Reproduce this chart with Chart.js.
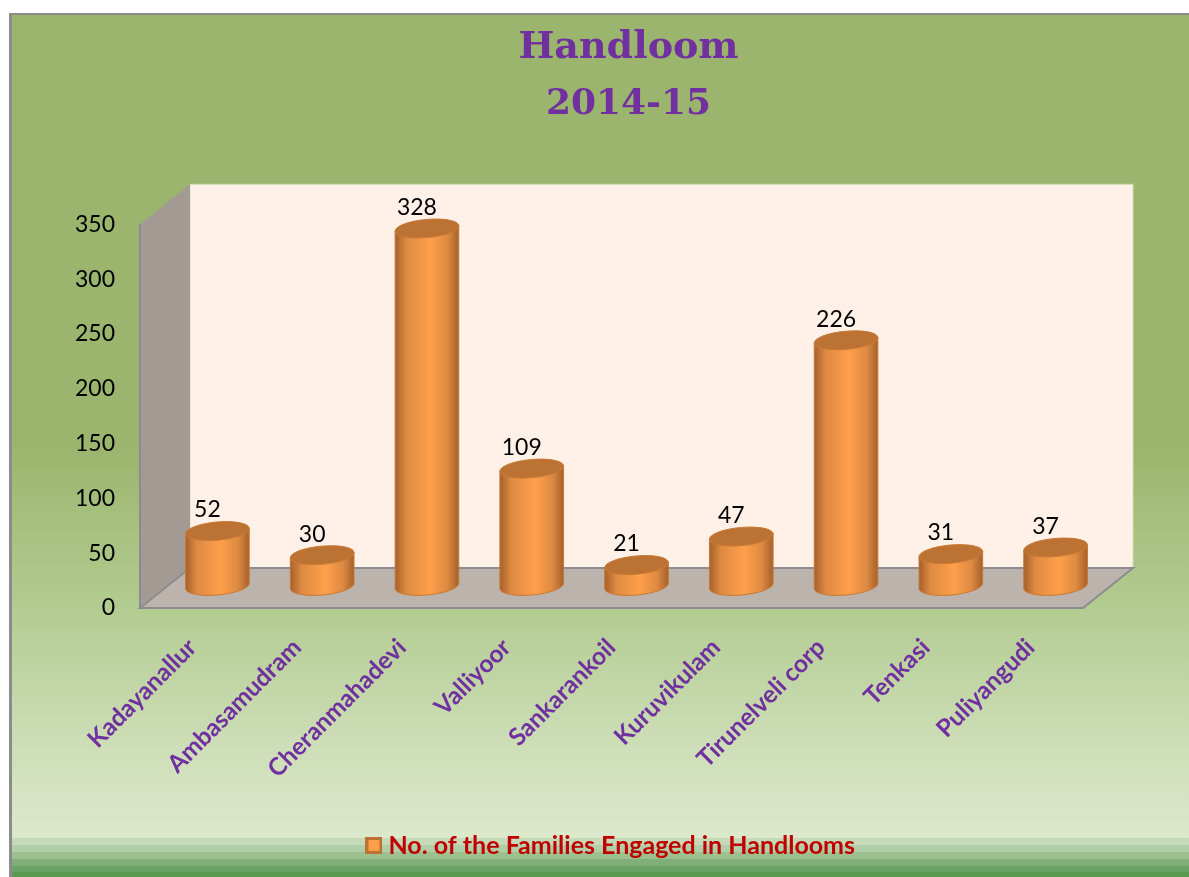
<!DOCTYPE html>
<html>
<head>
<meta charset="utf-8">
<title>Handloom 2014-15</title>
<script src="https://cdn.jsdelivr.net/npm/chart.js@4/dist/chart.umd.min.js"></script>
<style>
html, body { margin: 0; background: #fff; overflow: hidden; }
#wrap { position: relative; width: 1189px; height: 877px; }
#panel {
  position: absolute; left: 9px; top: 13px; width: 1177px; height: 862px;
  border: solid #8c8c8c; border-width: 2px 0 0 3px;
  background:
    linear-gradient(#c7dab8, #c7dab8) 0 823px / 100% 7px no-repeat,
    linear-gradient(#b0cea8, #b0cea8) 0 830px / 100% 7px no-repeat,
    linear-gradient(#9cc08e, #9cc08e) 0 837px / 100% 7px no-repeat,
    linear-gradient(#80ae78, #80ae78) 0 844px / 100% 7px no-repeat,
    linear-gradient(#68a264, #68a264) 0 851px / 100% 6px no-repeat,
    linear-gradient(#5a9a50, #5a9a50) 0 857px / 100% 5px no-repeat,
    linear-gradient(#9bb56e 0, #9bb56e 50%, #b1cb8f 68%, #cedeb8 85%, #dde9cc 96%);
}
canvas { position: absolute; left: 0; top: 0; }
</style>
</head>
<body>
<div id="wrap">
  <div id="panel"></div>
  <canvas id="chart" width="1189" height="877"></canvas>
</div>
<script>
const categories = ['Kadayanallur', 'Ambasamudram', 'Cheranmahadevi', 'Valliyoor', 'Sankarankoil', 'Kuruvikulam', 'Tirunelveli corp', 'Tenkasi', 'Puliyangudi'];
const families = [52, 30, 328, 109, 21, 47, 226, 31, 37];
const yTicks = [0, 50, 100, 150, 200, 250, 300, 350];

// 3d look of the excel chart
const DEPTH_X = 50;
const DEPTH_Y = 40;

// legend marker, wider than its slot so it sits close to the text
const legendBox = document.createElement('canvas');
legendBox.width = 17;
legendBox.height = 17;
const boxCtx = legendBox.getContext('2d');
boxCtx.fillStyle = '#bc7232';
boxCtx.fillRect(0, 0, 17, 17);
boxCtx.fillStyle = '#ff9f4a';
boxCtx.fillRect(3, 3, 11, 11);

const room = {
  id: 'room',
  beforeDatasetsDraw(chart) {
    const { ctx, chartArea: a } = chart;
    ctx.save();
    // back wall
    ctx.fillStyle = '#fff0e8';
    ctx.strokeStyle = '#d4dcb8';
    ctx.lineWidth = 1;
    ctx.fillRect(a.left + DEPTH_X, a.top - DEPTH_Y, a.right - a.left, a.bottom - a.top);
    ctx.strokeRect(a.left + DEPTH_X, a.top - DEPTH_Y, a.right - a.left, a.bottom - a.top);
    // left wall
    ctx.fillStyle = '#a39a93';
    ctx.strokeStyle = '#8c8c90';
    ctx.lineWidth = 2;
    ctx.beginPath();
    ctx.moveTo(a.left, a.top);
    ctx.lineTo(a.left + DEPTH_X, a.top - DEPTH_Y);
    ctx.lineTo(a.left + DEPTH_X, a.bottom - DEPTH_Y);
    ctx.lineTo(a.left, a.bottom);
    ctx.closePath();
    ctx.fill();
    ctx.beginPath();
    ctx.moveTo(a.left, a.top);
    ctx.lineTo(a.left, a.bottom);
    ctx.stroke();
    // floor
    ctx.fillStyle = '#bdb3ad';
    ctx.beginPath();
    ctx.moveTo(a.left, a.bottom);
    ctx.lineTo(a.left + DEPTH_X, a.bottom - DEPTH_Y);
    ctx.lineTo(a.right + DEPTH_X, a.bottom - DEPTH_Y);
    ctx.lineTo(a.right, a.bottom);
    ctx.closePath();
    ctx.fill();
    ctx.stroke();
    ctx.restore();
  }
};

const cylinders = {
  id: 'cylinders',
  afterDatasetsDraw(chart) {
    const { ctx } = chart;
    const yScale = chart.scales.y;
    const base = yScale.getPixelForValue(0) - DEPTH_Y / 2 - 2;
    const tilt = -0.09;
    chart.getDatasetMeta(0).data.forEach((bar, i) => {
      const x = bar.x + DEPTH_X / 2;
      const top = bar.y - DEPTH_Y / 2;
      const r = bar.width / 2;
      const ry = 9;
      const g = ctx.createLinearGradient(x - r, 0, x + r, 0);
      g.addColorStop(0, '#a5602b');
      g.addColorStop(0.18, '#de8a42');
      g.addColorStop(0.55, '#ff9f4a');
      g.addColorStop(0.82, '#de8a42');
      g.addColorStop(1, '#a5602b');
      ctx.save();
      ctx.fillStyle = g;
      ctx.strokeStyle = '#c87a35';
      ctx.lineWidth = 1;
      ctx.beginPath();
      ctx.ellipse(x, base, r, ry, tilt, 0, Math.PI);
      ctx.ellipse(x, top, r, ry, tilt, Math.PI, 0, true);
      ctx.closePath();
      ctx.fill();
      ctx.stroke();
      ctx.fillStyle = '#bc7232';
      ctx.beginPath();
      ctx.ellipse(x, top, r, ry, tilt, 0, Math.PI * 2);
      ctx.fill();
      ctx.stroke();
      // value label
      ctx.fillStyle = '#000';
      ctx.font = '23px Lato';
      ctx.textAlign = 'center';
      ctx.textBaseline = 'middle';
      ctx.fillText(String(families[i]), x - 10, top - 21);
      ctx.restore();
    });
  }
};

// title sits a bit right of the plot, legend stays on it
const nudgeTitles = {
  id: 'nudgeTitles',
  afterLayout(chart) {
    chart.boxes.forEach(b => {
      const dx = b.position === 'top' ? 17 : (b === chart.legend ? 2 : 0);
      b.left += dx;
      b.right += dx;
    });
  }
};

new Chart(document.getElementById('chart'), {
  type: 'bar',
  data: {
    labels: categories,
    datasets: [{
      label: 'No. of the Families Engaged in Handlooms',
      data: families,
      backgroundColor: 'rgba(0,0,0,0)',
      barPercentage: 0.61,
      categoryPercentage: 1
    }]
  },
  options: {
    responsive: false,
    animation: false,
    layout: { padding: { top: 25, left: 0, right: 106, bottom: 9 } },
    scales: {
      x: {
        grid: { display: false },
        border: { display: false },
        afterFit(scale) { scale.height = 219; },
        ticks: {
          autoSkip: false,
          minRotation: 45,
          maxRotation: 45,
          padding: 17,
          color: '#7030a0',
          font: { family: 'Lato', size: 24.5, weight: 'bold' }
        }
      },
      y: {
        min: 0,
        max: 350,
        grid: { display: false },
        border: { display: false },
        afterFit(scale) { scale.width = 140; },
        afterBuildTicks(scale) { scale.ticks = yTicks.map(value => ({ value })); },
        ticks: {
          padding: 17,
          color: '#000',
          font: { family: 'Lato', size: 23 }
        }
      }
    },
    plugins: {
      title: {
        display: true,
        fullSize: false,
        text: 'Handloom',
        color: '#7030a0',
        font: { family: 'DejaVu Serif', size: 38, weight: 'bold' },
        padding: { top: 0, bottom: 12 }
      },
      subtitle: {
        display: true,
        fullSize: false,
        text: '2014-15',
        color: '#7030a0',
        font: { family: 'DejaVu Serif', size: 36, weight: 'bold' },
        padding: { top: 0, bottom: 98.5 }
      },
      legend: {
        position: 'bottom',
        fullSize: false,
        labels: {
          usePointStyle: true,
          boxWidth: 4,
          padding: 6,
          color: '#c00000',
          font: { family: 'Lato', size: 25, weight: 'bold' },
          generateLabels() {
            return [{
              text: 'No. of the Families Engaged in Handlooms',
              pointStyle: legendBox,
              fontColor: '#c00000',
              datasetIndex: 0
            }];
          }
        }
      },
      tooltip: { enabled: false }
    }
  },
  plugins: [room, cylinders, nudgeTitles]
});
</script>
</body>
</html>
